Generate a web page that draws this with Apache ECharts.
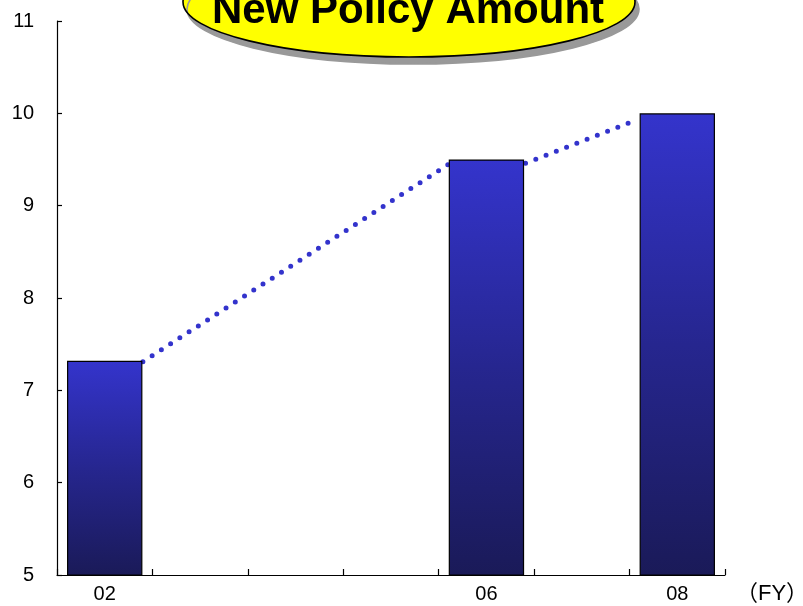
<!DOCTYPE html>
<html>
<head>
<meta charset="utf-8">
<script src="https://cdn.jsdelivr.net/npm/echarts@6/dist/echarts.min.js"></script>
<style>
  html, body { margin: 0; padding: 0; background: #fff; }
  #chart { width: 803px; height: 606px; }
</style>
</head>
<body>
<div id="chart"></div>
<script>
// Fiscal years on the category axis
var years = ['02', '03', '04', '05', '06', '07', '08'];
// Years that carry a label under the axis
var labelledYears = ['02', '06', '08'];
// New policy amount per fiscal year (only 02, 06 and 08 reported)
var amounts = [7.32, null, null, null, 9.5, null, 10.0];
// Value axis ticks
var yMin = 5, yMax = 11, yStep = 1;
// Dotted trend segments, x in category units along the axis, y in amount
var trendA = [[0.9, 7.31], [4.12, 9.46]];
var trendB = [[4.91, 9.46], [6.03, 9.91]];

var font = 'Liberation Sans, Arial, sans-serif';
var chart = echarts.init(document.getElementById('chart'), null, { renderer: 'canvas' });

var dotStyle = {
  color: '#3333cc',
  width: 5,
  type: [0, 11],
  cap: 'round'
};

chart.setOption({
  animation: false,
  backgroundColor: '#fff',
  grid: { left: 57, right: 78, top: 21, bottom: 31, containLabel: false },
  xAxis: [
    {
      type: 'category',
      data: years,
      boundaryGap: true,
      axisLine: { show: true, lineStyle: { color: '#000', width: 1.2 } },
      axisTick: { show: true, inside: true, length: 6, interval: 0, alignWithLabel: false,
                  lineStyle: { color: '#000', width: 1.2 } },
      axisLabel: {
        interval: 0,
        margin: 9,
        color: '#000',
        fontSize: 20,
        fontFamily: font,
        formatter: function (v) { return labelledYears.indexOf(v) >= 0 ? v : ''; }
      },
      splitLine: { show: false }
    },
    {
      type: 'value',
      min: 0,
      max: years.length,
      show: false
    }
  ],
  yAxis: {
    type: 'value',
    min: yMin,
    max: yMax,
    interval: yStep,
    axisLine: { show: true, lineStyle: { color: '#000', width: 1.2 } },
    axisTick: { show: true, inside: true, length: 5, lineStyle: { color: '#000', width: 1.2 } },
    axisLabel: { margin: 23, color: '#000', fontSize: 20, fontFamily: font },
    splitLine: { show: false }
  },
  series: [
    {
      type: 'line',
      xAxisIndex: 1,
      data: trendA,
      symbol: 'none',
      lineStyle: dotStyle,
      z: 1,
      silent: true
    },
    {
      type: 'line',
      xAxisIndex: 1,
      data: trendB,
      symbol: 'none',
      lineStyle: dotStyle,
      z: 1,
      silent: true
    },
    {
      type: 'bar',
      xAxisIndex: 0,
      data: amounts,
      barWidth: '79%',
      z: 3,
      itemStyle: {
        borderColor: '#000',
        borderWidth: 1.2,
        color: new echarts.graphic.LinearGradient(0, 0, 0, 1, [
          { offset: 0, color: '#3434cc' },
          { offset: 0.5, color: '#26268f' },
          { offset: 1, color: '#1a1a58' }
        ])
      }
    }
  ],
  graphic: [
    {
      type: 'ellipse',
      shape: { cx: 409, cy: 2, rx: 226, ry: 55 },
      style: {
        fill: '#ffff00',
        stroke: '#000',
        lineWidth: 1.6,
        shadowColor: '#999',
        shadowOffsetX: 4,
        shadowOffsetY: 7,
        shadowBlur: 0
      },
      z: 10
    },
    {
      type: 'text',
      x: 408,
      y: 32,
      style: {
        text: 'New Policy Amount',
        fill: '#000',
        font: 'bold 42px ' + font,
        textAlign: 'center',
        textVerticalAlign: 'bottom'
      },
      z: 11
    },
    {
      type: 'text',
      x: 736,
      y: 594,
      style: {
        text: '（FY）',
        fill: '#000',
        font: '22px Liberation Sans, Noto Sans CJK JP, sans-serif',
        textAlign: 'left',
        textVerticalAlign: 'middle'
      }
    }
  ]
});
</script>
</body>
</html>
